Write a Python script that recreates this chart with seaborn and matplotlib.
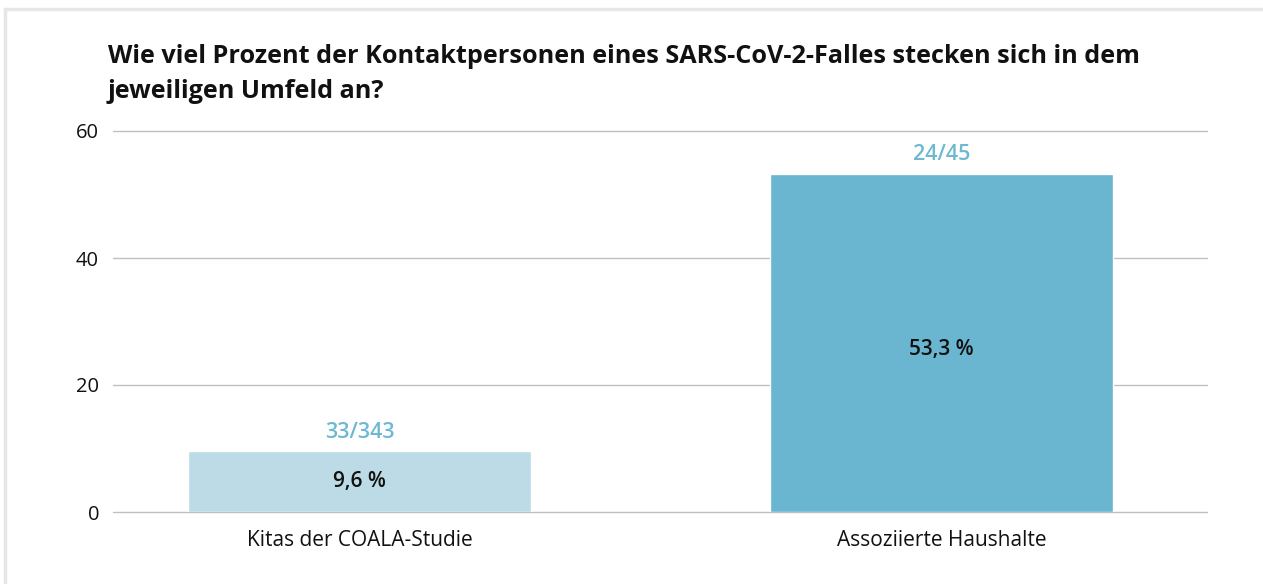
import matplotlib
matplotlib.use("Agg")
import matplotlib.pyplot as plt
import seaborn as sns
import pandas as pd
from matplotlib.patches import Rectangle

categories = ["Kitas der COALA-Studie", "Assoziierte Haushalte"]
values = [9.6, 53.3]
value_labels = ["9,6 %", "53,3 %"]
count_labels = ["33/343", "24/45"]
bar_colors = ["#bcdbe6", "#6ab5cf"]
title = "Wie viel Prozent der Kontaktpersonen eines SARS-CoV-2-Falles stecken sich in dem\njeweiligen Umfeld an?"
yticks = [0, 20, 40, 60]

sns.set_theme(style="white")
plt.rcParams["font.family"] = ["Open Sans", "DejaVu Sans"]

W, H = 1263, 584
fig = plt.figure(figsize=(W / 100, H / 100), dpi=100)
ax = fig.add_axes([113 / W, 1 - 512 / H, (1207 - 113) / W, (512 - 131) / H])

df = pd.DataFrame({"cat": categories, "val": values})
sns.barplot(data=df, x="cat", y="val", hue="cat", palette=bar_colors,
            width=0.59, legend=False, ax=ax, saturation=1)

ax.set_ylim(0, 60)
ax.set_xlim(-0.4235, 1.456)
ax.set_yticks(yticks)
ax.grid(axis="y", color="#c0c0c0", linewidth=1.0)
for gl in ax.get_ygridlines():
    gl.set_clip_on(False)
ax.set_axisbelow(True)
for s in ax.spines.values():
    s.set_visible(False)
ax.set_xlabel("")
ax.set_ylabel("")
ax.tick_params(axis="y", length=0, pad=10, labelsize=14.5, labelcolor="#111111")
ax.tick_params(axis="x", length=0, pad=13, labelsize=15, labelcolor="#111111")

for i, (v, vl, cl) in enumerate(zip(values, value_labels, count_labels)):
    ax.annotate(vl, (i, v / 2), xytext=(0, -4.5 * i), textcoords="offset points",
                ha="center", va="center", fontsize=15,
                fontweight="semibold", color="#111111")
    ax.annotate(cl, (i, v), xytext=(0, 6), textcoords="offset points",
                ha="center", va="bottom", fontsize=15.5, fontweight="semibold",
                color="#6db8d3")

fig.text(108 / W, 1 - 44 / H, title, ha="left", va="top", fontsize=18.2,
         fontweight="bold", color="#111111", linespacing=1.55)

fig.patches.append(Rectangle((5 / W, -0.05), 1.2, 1 - 9 / H + 0.05,
                             transform=fig.transFigure, fill=False,
                             edgecolor="#e6e6e6", linewidth=2.5))

fig.savefig("out.png", dpi=100, facecolor="white")
